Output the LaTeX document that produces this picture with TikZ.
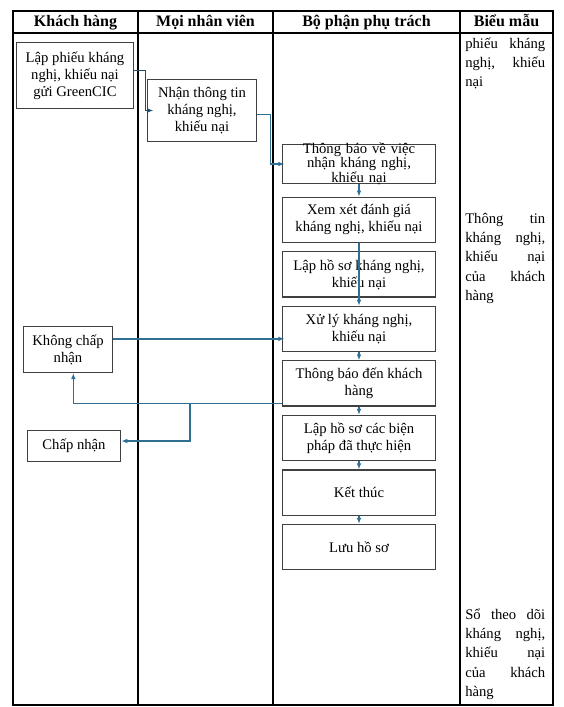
\documentclass[tikz,border=0pt]{standalone}
\usepackage{fontspec}
\setmainfont{Liberation Serif}
\usetikzlibrary{arrows.meta,positioning}
\definecolor{flowblue}{HTML}{2F6F93}
\definecolor{flownavy}{HTML}{1E4D6E}
\definecolor{boxgray}{HTML}{404040}
\newcommand{\fullline}[1]{\leavevmode\hbox to 60pt{#1}}
\tikzset{
  stepbox/.style={
    draw=boxgray,
    line width=0.9pt,
    fill=white,
    minimum width=115pt,
    minimum height=33.9pt,
    inner sep=1pt,
    align=center,
    font=\fontsize{11}{12.75}\selectfont
  },
  flowarrow/.style={
    -{Latex[length=4.5pt,width=3.5pt]},
    line width=1pt,
    draw=flowblue
  },
  gridline/.style={
    draw=black,
    line width=0.8pt
  },
  headtext/.style={
    anchor=base,
    font=\fontsize{12}{14}\selectfont\bfseries
  },
  formtext/.style={
    text width=60pt,
    align=left,
    inner sep=0pt,
    anchor=base west,
    font=\fontsize{11}{14.6}\selectfont
  }
}

\begin{document}
\begin{tikzpicture}[x=0.75pt, y=-0.75pt, node distance=6.1pt]
\useasboundingbox (0,0) rectangle (564,707);
% lanes
\draw[gridline] (13,11) rectangle (553,705);
\draw[gridline] (13,33) -- (553,33);
\foreach \xcol in {138,273,460} \draw[gridline] (\xcol,11) -- (\xcol,705);
\node[headtext] (hkhach) at (75.5,26.5) {Khách hàng};
\node[headtext] (hnhanvien) at (205.5,26.5) {Mọi nhân viên};
\node[headtext] (hbophan) at (366.5,26.5) {Bộ phận phụ trách};
\node[headtext] (hbieumau) at (506.5,26.5) {Biểu mẫu};
% steps
\node[stepbox, minimum width=88pt, minimum height=49.5pt] (lapphieu) at (75,75.5) {Lập phiếu kháng\\nghị, khiếu nại\\gửi GreenCIC};
\node[stepbox, minimum width=82pt, minimum height=46.5pt] (nhantt) at (202,110.5) {Nhận thông tin\\kháng nghị,\\khiếu nại};
\node[stepbox, text width=113pt, minimum height=29.1pt, inner ysep=0pt, text height=6.5pt, text depth=22.6pt, font=\fontsize{11}{10.8}\selectfont] (tbviec) at (359,164) {Thông báo về việc\\nhận kháng nghị,\\khiếu nại};
\node[stepbox, below=9.5pt of tbviec] (xemxet) {Xem xét đánh giá\\kháng nghị, khiếu nại};
\node[stepbox, below=of xemxet] (laphs) {Lập hồ sơ kháng nghị,\\khiếu nại};
\node[stepbox, below=of laphs] (xuly) {Xử lý kháng nghị,\\khiếu nại};
\node[stepbox, below=of xuly] (tbkhach) {Thông báo đến khách\\hàng};
\node[stepbox, below=of tbkhach] (lapbp) {Lập hồ sơ các biện\\pháp đã thực hiện};
\node[stepbox, below=of lapbp] (ketthuc) {Kết thúc};
\node[stepbox, below=of ketthuc] (luuhs) {Lưu hồ sơ};
\node[stepbox, minimum width=67pt, minimum height=34.5pt] (khongcn) at (68,349.5) {Không chấp\\nhận};
\node[stepbox, minimum width=70pt, minimum height=23.5pt] (chapnhan) at (74,446) {Chấp nhận};
% forms
\node[formtext] (bmphieu) at (465,48) {\fullline{phiếu\hfill kháng}\\\fullline{nghị,\hfill khiếu}\\nại};
\node[formtext] (bmthongtin) at (465,223) {\fullline{Thông\hfill tin}\\\fullline{kháng\hfill nghị,}\\\fullline{khiếu\hfill nại}\\\fullline{của\hfill khách}\\hàng};
\node[formtext] (bmso) at (465,619) {\fullline{Sổ\hfill theo\hfill dõi}\\\fullline{kháng\hfill nghị,}\\\fullline{khiếu\hfill nại}\\\fullline{của\hfill khách}\\hàng};
% flow
\draw[flowarrow, draw=flownavy, shorten >=-5pt] ([yshift=4pt]lapphieu.east) -- ++(11,0) |- (nhantt.west);
\draw[flowarrow, shorten >=-2pt] ([yshift=-3pt]nhantt.east) -- ++(13,0) |- (tbviec.west);
\draw[flowarrow] (tbviec) -- (xemxet);
\draw[flowarrow] (xemxet.south) -- (xuly.north);
\draw[flowarrow] (xuly) -- (tbkhach);
\draw[flowarrow] (tbkhach) -- (lapbp);
\draw[flowarrow] (lapbp) -- (ketthuc);
\draw[flowarrow] (ketthuc) -- (luuhs);
\draw[flowarrow, shorten >=-2pt] ([yshift=8pt]khongcn.east) -- ([yshift=8pt]khongcn.east -| xuly.west);
\coordinate (tachnhanh) at (190,403);
\draw[flowarrow] ([yshift=-15pt]tbkhach.west) -| ([xshift=4pt]khongcn.south);
\draw[flowarrow] (tachnhanh) |- ([yshift=3.75pt]chapnhan.east);
\end{tikzpicture}
\end{document}
